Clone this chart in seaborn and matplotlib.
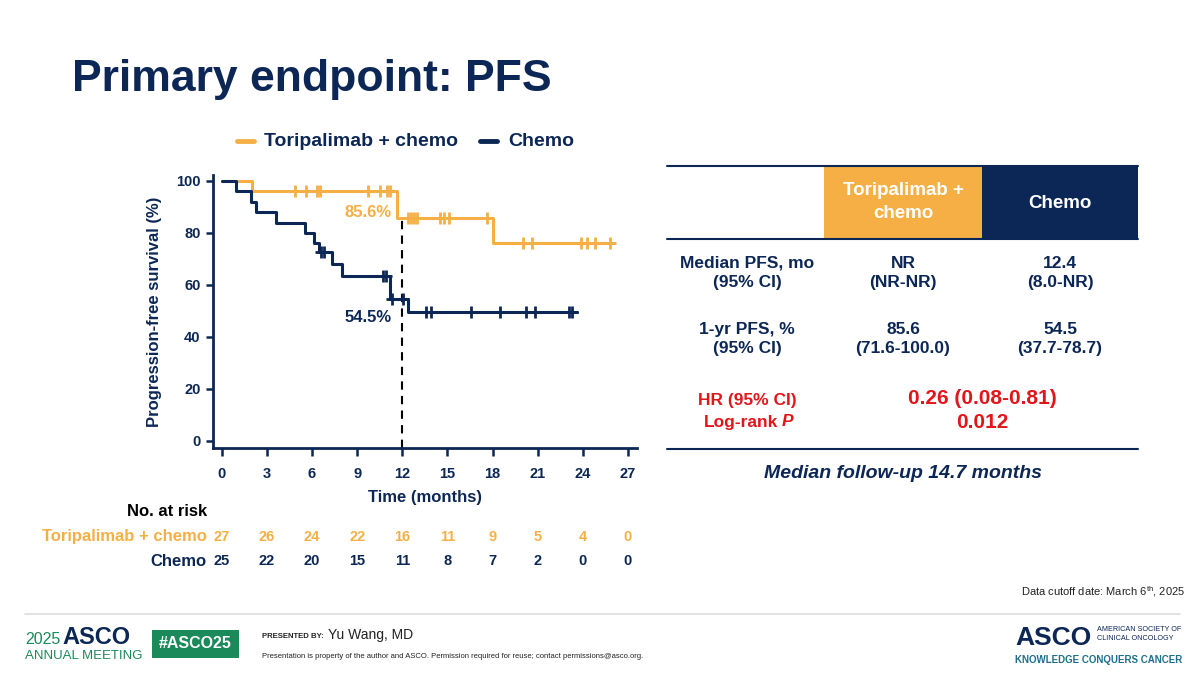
import numpy as np
import pandas as pd
import matplotlib
matplotlib.use("Agg")
import matplotlib.pyplot as plt
import seaborn as sns
from matplotlib.patches import Rectangle

# KM step data (months, % progression-free)
tori_time = [0, 2.0, 11.65, 18.0, 26.1]
tori_surv = [100, 96.3, 85.6, 76.1, 76.1]
tori_cens = [4.9, 5.6, 6.3, 6.5, 9.7, 10.5, 11.0, 11.2, 12.4, 12.6, 12.8, 13.0,
             14.5, 14.8, 15.1, 17.6, 20.0, 20.6, 23.9, 24.3, 24.8, 25.8]

chemo_time = [0, 0.95, 1.95, 2.25, 3.6, 5.55, 6.15, 6.45, 7.3, 8.0, 11.2, 12.35, 23.6]
chemo_surv = [100, 96, 92, 88, 84, 80, 76, 72.6, 68.1, 63.6, 54.5, 49.6, 49.6]
chemo_cens = [6.6, 6.8, 10.7, 10.9, 11.3, 12.05, 13.6, 13.9, 16.6, 18.5, 20.2,
              20.8, 23.1, 23.3]

risk_times = [0, 3, 6, 9, 12, 15, 18, 21, 24, 27]
risk_tori = [27, 26, 24, 22, 16, 11, 9, 5, 4, 0]
risk_chemo = [25, 22, 20, 15, 11, 8, 7, 2, 0, 0]

arm_names = ["Toripalimab + chemo", "Chemo"]
landmark = 12
landmark_vals = [85.6, 54.5]

NAVY = "#0C2756"
ORANGE = "#F5AF45"
RED = "#E3151A"
GREEN = "#1B8A5A"

sns.set_theme(style="white")
plt.rcParams["font.family"] = ["Liberation Sans", "DejaVu Sans"]

fig = plt.figure(figsize=(12, 6.75), dpi=100)
W, H = 1200, 675


def ft(x, y, s, **kw):
    # text placed in pixel coordinates of the slide
    fig.text(x / W, 1 - y / H, s, **kw)


def fline(x0, x1, y, color, lw):
    fig.add_artist(plt.Line2D([x0 / W, x1 / W], [1 - y / H, 1 - y / H],
                              color=color, lw=lw, transform=fig.transFigure))


def fbox(x0, y0, x1, y1, color):
    fig.add_artist(Rectangle((x0 / W, 1 - y1 / H), (x1 - x0) / W, (y1 - y0) / H,
                             color=color, transform=fig.transFigure, lw=0))


ax = fig.add_axes([213 / W, 1 - 448 / H, (637 - 213) / W, (448 - 175) / H])


def km_df(times, surv, arm):
    return pd.DataFrame({"time": times, "surv": surv, "arm": arm})


def cens_df(times, surv, cens, arm):
    t = np.array(times)
    s = np.array(surv)
    idx = np.searchsorted(t, cens, side="right") - 1
    return pd.DataFrame({"time": cens, "surv": s[idx], "arm": arm})


curves = pd.concat([km_df(tori_time, tori_surv, arm_names[0]),
                    km_df(chemo_time, chemo_surv, arm_names[1])])
marks = pd.concat([cens_df(tori_time, tori_surv, tori_cens, arm_names[0]),
                   cens_df(chemo_time, chemo_surv, chemo_cens, arm_names[1])])
palette = {arm_names[0]: ORANGE, arm_names[1]: NAVY}

for arm in arm_names:
    sub = curves[curves["arm"] == arm]
    sns.lineplot(data=sub, x="time", y="surv", color=palette[arm], lw=2.2,
                 drawstyle="steps-post", estimator=None, sort=False, ax=ax,
                 legend=False)
    msub = marks[marks["arm"] == arm]
    ax.scatter(msub["time"], msub["surv"], marker="+", s=80, lw=2.0,
               color=palette[arm], zorder=3)

ax.set_xlim(-0.58, 27.6)
ax.set_ylim(-2.7, 102.3)
ax.vlines(landmark, -2.7, landmark_vals[0], colors="black", lw=1.5,
          linestyles=(0, (4, 3)), zorder=1)
ax.text(11.3, 87.7, f"{landmark_vals[0]}%", color=ORANGE, fontsize=12,
        fontweight="bold", ha="right", va="center")
ax.text(11.3, 47.3, f"{landmark_vals[1]}%", color=NAVY, fontsize=12,
        fontweight="bold", ha="right", va="center")

ax.set_xticks(risk_times)
ax.set_yticks([0, 20, 40, 60, 80, 100])
for side in ["top", "right"]:
    ax.spines[side].set_visible(False)
for side in ["left", "bottom"]:
    ax.spines[side].set_color(NAVY)
    ax.spines[side].set_linewidth(2)
ax.tick_params(axis="both", colors=NAVY, width=1.8, direction="out",
               labelsize=10.5, bottom=True, left=True)
ax.tick_params(axis="y", length=5, pad=4)
ax.tick_params(axis="x", length=6, pad=8)
for lab in ax.get_xticklabels() + ax.get_yticklabels():
    lab.set_fontweight("bold")
    lab.set_color(NAVY)
ax.set_xlabel("Time (months)", fontsize=12, fontweight="bold", color=NAVY,
              labelpad=6)
ax.set_ylabel("Progression-free survival (%)", fontsize=12, fontweight="bold",
              color=NAVY, labelpad=10)

# title and legend
ft(72, 80, "Primary endpoint: PFS", fontsize=32, fontweight="bold", color=NAVY,
   va="center")
fline(237, 254, 141, ORANGE, 3.5)
ft(264, 141, arm_names[0], fontsize=14, fontweight="bold", color=NAVY, va="center")
fline(480, 497, 141, NAVY, 3.5)
ft(508, 141, arm_names[1], fontsize=14, fontweight="bold", color=NAVY, va="center")

# number at risk
ft(207, 512, "No. at risk", fontsize=12, fontweight="bold", color="black",
   ha="right", va="center")
ft(207, 537, arm_names[0], fontsize=12, fontweight="bold", color=ORANGE,
   ha="right", va="center")
ft(207, 561, arm_names[1], fontsize=12, fontweight="bold", color=NAVY,
   ha="right", va="center")
for t, a, b in zip(risk_times, risk_tori, risk_chemo):
    ax.annotate(str(a), (t, 0), xycoords=("data", "figure fraction"),
                xytext=(t, 1 - 537 / H), textcoords=("data", "figure fraction"),
                ha="center", va="center", fontsize=10.5, fontweight="bold",
                color=ORANGE, annotation_clip=False)
    ax.annotate(str(b), (t, 0), xycoords=("data", "figure fraction"),
                xytext=(t, 1 - 561 / H), textcoords=("data", "figure fraction"),
                ha="center", va="center", fontsize=10.5, fontweight="bold",
                color=NAVY, annotation_clip=False)

# summary table
fbox(824, 166, 982, 239, ORANGE)
fbox(982, 166, 1138, 239, NAVY)
fline(667, 1138, 166, NAVY, 1.5)
fline(667, 1138, 239, NAVY, 1.5)
fline(667, 1138, 449, NAVY, 1.5)
ft(903, 202, "Toripalimab +\nchemo", fontsize=13.5, fontweight="bold",
   color="white", ha="center", va="center", linespacing=1.45)
ft(1060, 203, "Chemo", fontsize=13.5, fontweight="bold", color="white",
   ha="center", va="center")

rows = [
    ("Median PFS, mo\n(95% CI)", "NR\n(NR-NR)", "12.4\n(8.0-NR)", 273),
    ("1-yr PFS, %\n(95% CI)", "85.6\n(71.6-100.0)", "54.5\n(37.7-78.7)", 339),
]
for lab, v1, v2, y in rows:
    ft(747, y, lab, fontsize=12.5, fontweight="bold", color=NAVY, ha="center",
       va="center", linespacing=1.35)
    ft(903, y, v1, fontsize=12.5, fontweight="bold", color=NAVY, ha="center",
       va="center", linespacing=1.35)
    ft(1060, y, v2, fontsize=12.5, fontweight="bold", color=NAVY, ha="center",
       va="center", linespacing=1.35)

ft(747, 400, "HR (95% CI)", fontsize=12.5, fontweight="bold", color=RED,
   ha="center", va="center")
ft(778, 422, "Log-rank", fontsize=12.5, fontweight="bold", color=RED,
   ha="right", va="center")
ft(782, 422, "P", fontsize=12.5, fontweight="bold", style="italic", color=RED,
   ha="left", va="center")
ft(982, 399, "0.26 (0.08-0.81)", fontsize=15, fontweight="bold", color=RED,
   ha="center", va="center")
ft(982, 423, "0.012", fontsize=15, fontweight="bold", color=RED,
   ha="center", va="center")
ft(903, 473, "Median follow-up 14.7 months", fontsize=14, fontweight="bold",
   style="italic", color=NAVY, ha="center", va="center")

# footer
ft(1185, 592, "Data cutoff date: March 6$^{\\mathregular{th}}$, 2025", fontsize=8,
   color="#222222", ha="right", va="center")
fline(25, 1180, 614, "#DDDDDD", 1.2)
ft(25, 639, "2025", fontsize=11.5, color=GREEN, va="center")
ft(62, 637, "ASCO", fontsize=17, fontweight="bold", color=NAVY, va="center")
ft(25, 656, "ANNUAL MEETING", fontsize=9.5, color=GREEN, va="center")
fbox(152, 630, 239, 658, GREEN)
ft(195, 644, "#ASCO25", fontsize=11.5, fontweight="bold", color="white",
   ha="center", va="center")
ft(262, 637, "PRESENTED BY:", fontsize=5.6, fontweight="bold", color="#222222",
   va="center")
ft(328, 635, "Yu Wang, MD", fontsize=10, color="#222222", va="center")
ft(262, 656, "Presentation is property of the author and ASCO. Permission required "
   "for reuse; contact permissions@asco.org.", fontsize=5.5, color="#222222",
   va="center")
ft(1015, 638, "ASCO", fontsize=19, fontweight="bold", color=NAVY, va="center")
ft(1097, 634, "AMERICAN SOCIETY OF\nCLINICAL ONCOLOGY", fontsize=5.2,
   color=NAVY, va="center", linespacing=1.25)
ft(1015, 660, "KNOWLEDGE CONQUERS CANCER", fontsize=7, fontweight="bold",
   color="#1F6E8C", va="center")

fig.savefig("out.png", dpi=100)
